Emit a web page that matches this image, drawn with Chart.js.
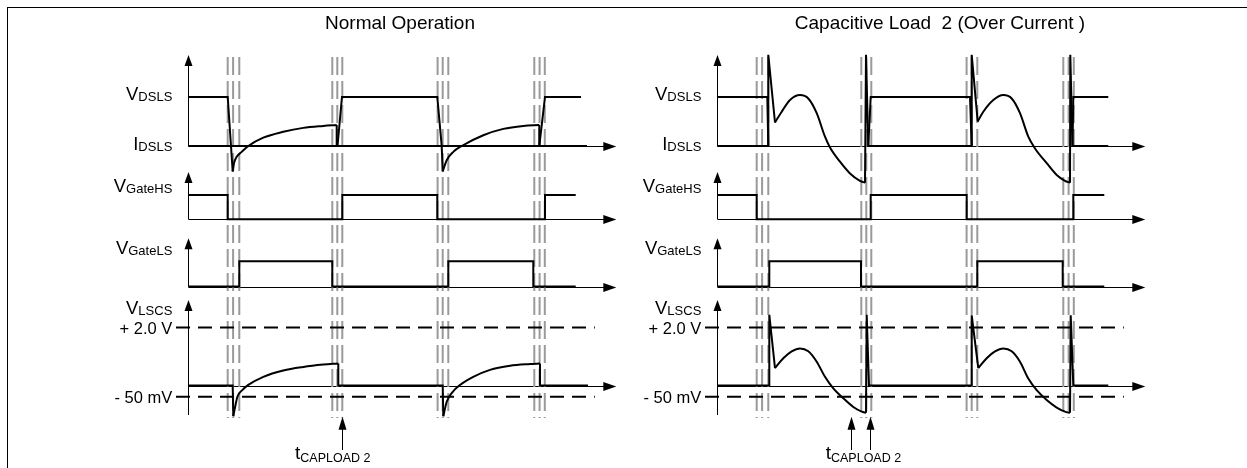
<!DOCTYPE html>
<html>
<head>
<meta charset="utf-8">
<script src="https://cdn.jsdelivr.net/npm/chart.js@4.4.1/dist/chart.umd.min.js"></script>
<style>
  html, body { margin: 0; padding: 0; background: #fff; }
  #wrap { position: relative; width: 1247px; height: 468px; overflow: hidden; }
  #frame { position: absolute; left: 7px; top: 7px; width: 1260px; height: 480px; border-left: 1px solid #000; border-top: 1px solid #000; }
  canvas { position: absolute; top: 0; }
</style>
</head>
<body>
<div id="wrap">
  <div id="frame"></div>
  <canvas id="normal" width="624" height="468" style="left:0"></canvas>
  <canvas id="overcurrent" width="623" height="468" style="left:624px"></canvas>
</div>
<script>
// time runs in diagram units, t = 0 at the vertical axis of each panel
// signal values are normalised levels (1 = nominal high of the row)

const titles = ['Normal Operation', 'Capacitive Load  2 (Over Current )'];
const rowLabels = [['V', 'DSLS'], ['I', 'DSLS'], ['V', 'GateHS'], ['V', 'GateLS'], ['V', 'LSCS']];
const thresholdLabels = ['+ 2.0 V', '- 50 mV'];
const thresholdLevels = [1, -0.193];
const capLabel = ['t', 'CAPLOAD 2'];

// dead-time markers (grey dashed triples), same in both panels
const deadTimeMarks = [39.4, 44.8, 51, 144, 149, 154, 249.3, 254.4, 260, 346, 351.3, 356.5];

// ---- normal operation ----
const normVdsls = [[0, 1], [39.4, 1], [42.7, 0], [149.2, 0], [153.7, 1], [249, 1], [253.4, 0], [351, 0], [356.7, 1], [392.7, 1]];
const normIdsls = [[0, 0], [42.7, 0], [44.4, -0.52], null, [148.4, 0.43], [148.4, 0], [253.4, 0], [254.4, -0.52], null, [351, 0.43], [351, 0], [398.7, 0]];
const normIdslsCurve1 = [[44.4, -0.52], [45.7, -0.35], [48.4, -0.22], [53.4, -0.12], [60, 0], [75, 0.17], [95, 0.29], [115, 0.37], [135, 0.41], [148.4, 0.43]];
const normIdslsCurve2 = [[254.4, -0.52], [258.4, -0.29], [265, -0.12], [273.4, 0], [295, 0.22], [315, 0.35], [335, 0.41], [351, 0.43]];
const normGateHS = [[0, 1], [39.4, 1], [39.4, 0], [154, 0], [154, 1], [249, 1], [249, 0], [356.7, 0], [356.7, 1], [387.4, 1]];
const normGateLS = [[0, 0], [51, 0], [51, 1], [144, 1], [144, 0], [260, 0], [260, 1], [345, 1], [345, 0], [387.4, 0]];
const normVlscs = [[0, 0], [44.4, 0], [45, -0.53], null, [150, 0.38], [150, 0], [254.4, 0], [255, -0.53], null, [351.7, 0.38], [351.7, 0], [399.7, 0]];
const normVlscsCurve1 = [[45, -0.53], [46.8, -0.37], [49.2, -0.19], [54, -0.08], [60, 0.01], [75, 0.15], [95, 0.26], [115, 0.32], [135, 0.36], [150, 0.38]];
const normVlscsCurve2 = [[255, -0.53], [258.4, -0.28], [263.4, -0.13], [271.7, 0.01], [285, 0.15], [301.7, 0.27], [321.7, 0.34], [341.7, 0.37], [351.7, 0.38]];
const normCapArrows = [154];

// ---- capacitive load 2 (over current) ----
const ocVdsls = [[0, 1], [50, 1], [51, 0], null, [151, 0], [153.4, 1], [252.7, 1], [254.4, 0], null, [355.2, 0], [356, 1], [391, 1]];
const ocIdsls = [[0, 0], [51, 0], [51, 1.86], [57.7, 0.48], null, [147.7, -0.75], [148.7, 1.86], [151, 0], [254.4, 0], [254.4, 1.86], [260.4, 0.5], null, [352.7, -0.75], [353, 1.86], [355.2, 0], [391, 0]];
const ocIdslsHump1 = [[57.7, 0.48], [64.4, 0.7], [72.7, 0.94], [82.7, 1.04], [91, 0.97], [99.4, 0.67], [107.7, 0.19], [112.7, -0.03], [122.7, -0.32], [132.7, -0.56], [142.7, -0.71], [147.7, -0.75]];
const ocIdslsHump2 = [[260.4, 0.5], [266, 0.7], [276, 0.94], [286, 1.04], [294.4, 0.97], [302.7, 0.67], [311, 0.19], [317.7, -0.05], [329.4, -0.35], [339.4, -0.59], [347.7, -0.71], [352.7, -0.75]];
const ocGateHS = [[0, 1], [39.4, 1], [39.4, 0], [153.4, 0], [153.4, 1], [249.4, 1], [249.4, 0], [356, 0], [356, 1], [387, 1]];
const ocGateLS = [[0, 0], [52, 0], [52, 1], [143.7, 1], [143.7, 0], [260, 0], [260, 1], [345.4, 1], [345.4, 0], [387, 0]];
const ocVlscs = [[0, 0], [52, 0], [52, 1.22], [57.7, 0.3], null, [148.7, -0.47], [149.4, 1.22], [151.7, 0], [254.4, 0], [254.4, 1.21], [261, 0.3], null, [352.7, -0.47], [353.4, 1.21], [356, 0], [391, 0]];
const ocVlscsHump1 = [[57.7, 0.3], [66, 0.47], [74.4, 0.59], [82.7, 0.64], [91, 0.59], [99.4, 0.41], [107.7, 0.15], [116, -0.05], [126, -0.22], [136, -0.37], [144.4, -0.45], [148.7, -0.47]];
const ocVlscsHump2 = [[261, 0.3], [269.4, 0.47], [277.7, 0.59], [286, 0.64], [294.4, 0.59], [302.7, 0.41], [311, 0.12], [319.4, -0.08], [329.4, -0.25], [339.4, -0.38], [347.7, -0.45], [352.7, -0.47]];
const ocCapArrows = [133.4, 152.7];

// ---- layout (vertical positions in the y scale, which runs top-down) ----
const rows = {
    dsls:   { base: 146,   gain: 49,   top: 55,    bottom: 146 },
    gateHS: { base: 219.3, gain: 24.3, top: 172,   bottom: 219.3 },
    gateLS: { base: 286.5, gain: 25.2, top: 238.3, bottom: 286.5 },
    lscs:   { base: 385.5, gain: 58,   top: 300,   bottom: 415 }
};
const rowLabelBaselines = [99.5, 149.5, 191.5, 253.5, 313.5];
const labelRightT = -16;
const axisTipT = 428;
const markTop = 57, markBottom = 418;
const thresholdStartT = -12.3, thresholdEndT = 406.5;
const titleBaseline = 28.5;
const FONT = '"Liberation Sans", Arial, sans-serif';

function toPoints(pairs, row) {
    let lastX = 0;
    return pairs.map(p => {
        if (!p) return { x: lastX, y: null };
        lastX = p[0];
        return { x: p[0], y: row.base - row.gain * p[1] };
    });
}

function traceSet(pairs, row, curve) {
    return {
        data: toPoints(pairs, rows[row]),
        borderColor: '#000',
        borderWidth: 2,
        pointRadius: 0,
        fill: false,
        spanGaps: false,
        clip: false,
        order: 1,
        tension: curve ? 0.4 : 0,
        cubicInterpolationMode: curve ? 'monotone' : 'default'
    };
}

function markerSet() {
    const data = [];
    deadTimeMarks.forEach(t => {
        data.push({ x: t, y: markTop }, { x: t, y: markBottom }, { x: t, y: null });
    });
    return { data, borderColor: '#9a9a9a', borderWidth: 2, borderDash: [18, 6], pointRadius: 0, spanGaps: false, clip: false, order: 3 };
}

function thresholdSet() {
    const data = [];
    thresholdLevels.forEach(level => {
        const yv = rows.lscs.base - rows.lscs.gain * level;
        data.push({ x: thresholdStartT, y: yv }, { x: thresholdEndT, y: yv }, { x: thresholdEndT, y: null });
    });
    return { data, borderColor: '#000', borderWidth: 2, borderDash: [14, 8], pointRadius: 0, spanGaps: false, clip: false, order: 2 };
}

function drawLabel(ctx, main, sub, x, y, alignRight, mainSize, subSize, subDrop) {
    ctx.font = mainSize + 'px ' + FONT;
    const wm = ctx.measureText(main).width;
    ctx.font = subSize + 'px ' + FONT;
    const ws = ctx.measureText(sub).width;
    const left = alignRight ? x - wm - ws : x;
    ctx.textAlign = 'left';
    ctx.textBaseline = 'alphabetic';
    ctx.font = mainSize + 'px ' + FONT;
    ctx.fillText(main, left, y);
    ctx.font = subSize + 'px ' + FONT;
    ctx.fillText(sub, left + wm, y + subDrop);
}

const diagramPlugin = {
    id: 'diagram',
    beforeDatasetsDraw(chart) {
        const { ctx, scales: { x, y } } = chart;
        const x0 = Math.round(x.getPixelForValue(0)) + 0.5;
        const xTip = x.getPixelForValue(axisTipT);
        ctx.save();
        ctx.strokeStyle = '#000';
        ctx.fillStyle = '#000';
        ctx.lineWidth = 1;
        Object.values(rows).forEach(r => {
            const yb = Math.round(y.getPixelForValue(r.base)) + 0.5;
            const yt = y.getPixelForValue(r.top);
            const ybot = y.getPixelForValue(r.bottom);
            ctx.beginPath();
            ctx.moveTo(x0, ybot);
            ctx.lineTo(x0, yt + 10);
            ctx.moveTo(x0, yb);
            ctx.lineTo(xTip - 12, yb);
            ctx.stroke();
            // up arrow
            ctx.beginPath();
            ctx.moveTo(x0, yt);
            ctx.lineTo(x0 - 4, yt + 11);
            ctx.lineTo(x0 + 4, yt + 11);
            ctx.closePath();
            ctx.fill();
            // right arrow
            ctx.beginPath();
            ctx.moveTo(xTip, yb);
            ctx.lineTo(xTip - 13, yb - 4.5);
            ctx.lineTo(xTip - 13, yb + 4.5);
            ctx.closePath();
            ctx.fill();
        });
        ctx.restore();
    },
    afterDatasetsDraw(chart) {
        const { ctx, scales: { x, y } } = chart;
        const p = chart.options.plugins.diagram;
        ctx.save();
        ctx.fillStyle = '#000';
        ctx.strokeStyle = '#000';

        // title
        ctx.font = '19px ' + FONT;
        ctx.textAlign = 'center';
        ctx.fillText(p.title, x.getPixelForValue(p.titleT), y.getPixelForValue(titleBaseline));

        // row labels
        const xl = x.getPixelForValue(labelRightT);
        rowLabels.forEach((lab, i) => {
            drawLabel(ctx, lab[0], lab[1], xl, y.getPixelForValue(rowLabelBaselines[i]), true, 18.5, 13, 1.5);
        });

        // threshold labels
        ctx.font = '16.5px ' + FONT;
        ctx.textAlign = 'right';
        thresholdLevels.forEach((level, i) => {
            const yv = y.getPixelForValue(rows.lscs.base - rows.lscs.gain * level);
            ctx.fillText(thresholdLabels[i], xl, yv + 6);
        });

        // t_CAPLOAD arrows
        ctx.lineWidth = 1;
        p.capArrows.forEach(t => {
            const ax = Math.round(x.getPixelForValue(t)) + 0.5;
            const tip = y.getPixelForValue(416.7);
            ctx.beginPath();
            ctx.moveTo(ax, tip + 10);
            ctx.lineTo(ax, y.getPixelForValue(450));
            ctx.stroke();
            ctx.beginPath();
            ctx.moveTo(ax, tip);
            ctx.lineTo(ax - 4, tip + 13);
            ctx.lineTo(ax + 4, tip + 13);
            ctx.closePath();
            ctx.fill();
        });
        drawLabel(ctx, capLabel[0], capLabel[1], x.getPixelForValue(p.capLabelT), y.getPixelForValue(459), false, 19, 12.5, 3);
        ctx.restore();
    }
};

function makePanel(canvasId, axisPx, width, title, titleT, traces, capArrows, capLabelT) {
    const datasets = traces.map(tr => traceSet(tr[0], tr[1], tr[2]));
    datasets.push(thresholdSet());
    datasets.push(markerSet());
    return new Chart(document.getElementById(canvasId), {
        type: 'line',
        data: { datasets },
        options: {
            responsive: false,
            animation: false,
            devicePixelRatio: 1,
            events: [],
            layout: { padding: 0 },
            scales: {
                x: { type: 'linear', display: false, min: -axisPx, max: width - axisPx },
                y: { type: 'linear', display: false, reverse: true, min: 0, max: 468 }
            },
            plugins: {
                legend: { display: false },
                tooltip: { enabled: false },
                diagram: { title, titleT, capArrows, capLabelT }
            }
        },
        plugins: [diagramPlugin]
    });
}

makePanel('normal', 188.3, 624, titles[0], 211.7, [
    [normVdsls, 'dsls', false],
    [normIdsls, 'dsls', false],
    [normIdslsCurve1, 'dsls', true],
    [normIdslsCurve2, 'dsls', true],
    [normGateHS, 'gateHS', false],
    [normGateLS, 'gateLS', false],
    [normVlscs, 'lscs', false],
    [normVlscsCurve1, 'lscs', true],
    [normVlscsCurve2, 'lscs', true]
], normCapArrows, 106.7);

makePanel('overcurrent', 717.3 - 624, 623, titles[1], 222.7, [
    [ocVdsls, 'dsls', false],
    [ocIdsls, 'dsls', false],
    [ocIdslsHump1, 'dsls', true],
    [ocIdslsHump2, 'dsls', true],
    [ocGateHS, 'gateHS', false],
    [ocGateLS, 'gateLS', false],
    [ocVlscs, 'lscs', false],
    [ocVlscsHump1, 'lscs', true],
    [ocVlscsHump2, 'lscs', true]
], ocCapArrows, 108.4);
</script>
</body>
</html>
